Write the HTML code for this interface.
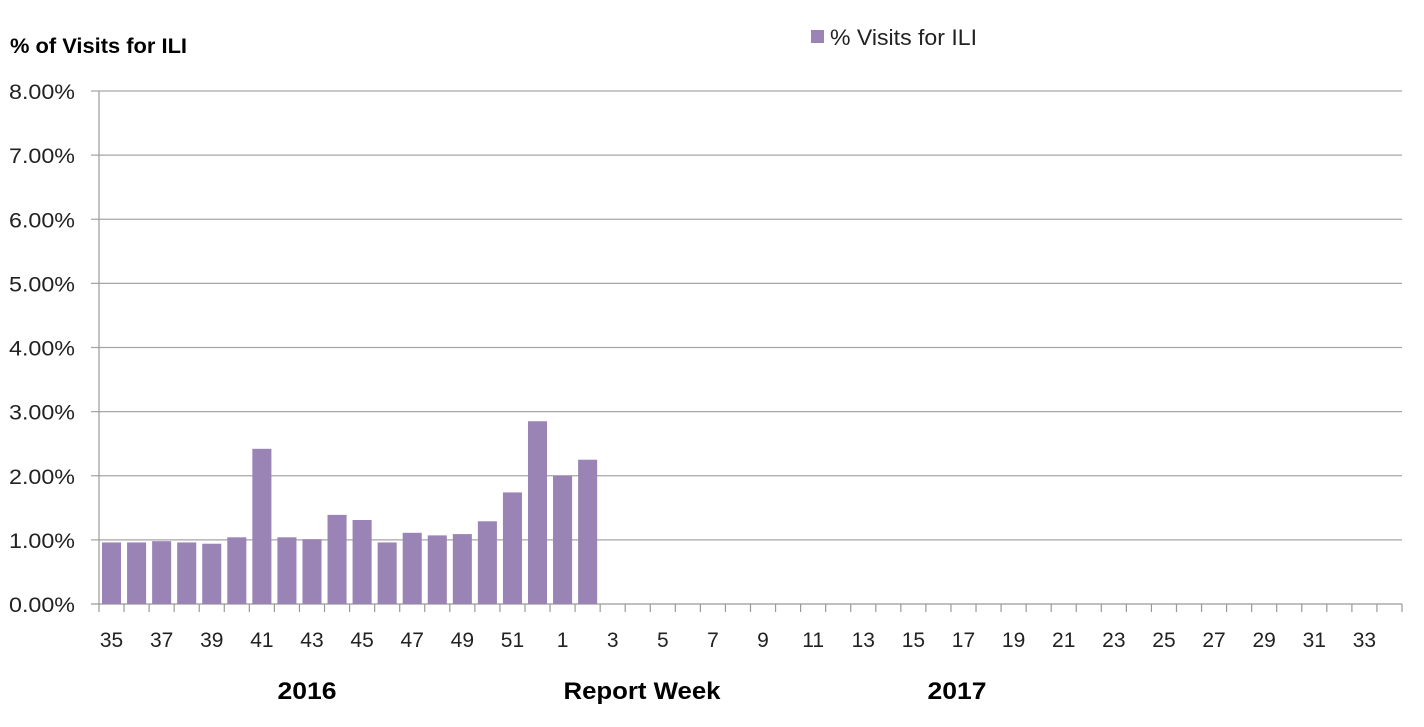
<!DOCTYPE html>
<html><head><meta charset="utf-8"><style>
body{margin:0;background:#fff;}
svg{display:block;font-family:"Liberation Sans",Calibri,sans-serif;}
</style></head><body>
<svg id="c" width="1424" height="727">
<text x="10" y="53" font-size="21" font-weight="bold" fill="#000" textLength="177" lengthAdjust="spacingAndGlyphs">% of Visits for ILI</text>
<g>
<rect x="811" y="30" width="13" height="13" fill="#9a84b6"></rect>
<text x="830" y="45" font-size="22" fill="#222" textLength="147" lengthAdjust="spacingAndGlyphs">% Visits for ILI</text>
</g>
<text x="307" y="699" font-size="24" font-weight="bold" text-anchor="middle" textLength="59" lengthAdjust="spacingAndGlyphs">2016</text>
<text x="642" y="699" font-size="24" font-weight="bold" text-anchor="middle" textLength="157" lengthAdjust="spacingAndGlyphs">Report Week</text>
<text x="957" y="699" font-size="24" font-weight="bold" text-anchor="middle" textLength="59" lengthAdjust="spacingAndGlyphs">2017</text>
<g id="grid"></g><g id="bars"></g><g id="axes"></g>
</svg>
<script>
const weeks=[35,36,37,38,39,40,41,42,43,44,45,46,47,48,49,50,51,52,1,2,3,4,5,6,7,8,9,10,11,12,13,14,15,16,17,18,19,20,21,22,23,24,25,26,27,28,29,30,31,32,33,34];
const values=[0.96,0.96,0.98,0.96,0.94,1.04,2.42,1.04,1.01,1.39,1.31,0.96,1.11,1.07,1.09,1.29,1.74,2.85,2.00,2.25];
const yTicks=[0,1,2,3,4,5,6,7,8];
const NS='http://www.w3.org/2000/svg';
const L=99,R=1402,T=91,B=604;
const bw=(R-L)/weeks.length;
const y=v=>B-(v/8)*(B-T);
const x=i=>L+i*bw;
function mk(t,a,p){const e=document.createElementNS(NS,t);for(const k in a)e.setAttribute(k,a[k]);p.appendChild(e);return e;}
const g=document.getElementById('grid'),b=document.getElementById('bars'),ax=document.getElementById('axes');
yTicks.forEach(v=>{
 const l=mk('line',{x1:L-8,x2:R,y1:y(v),y2:y(v),stroke:v===0?'#999':'#a6a6a6','stroke-width':1.2},g);
 
 
 const t=mk('text',{x:75,y:y(v)+8,'font-size':21,'text-anchor':'end',fill:'#222',textLength:66,lengthAdjust:'spacingAndGlyphs'},ax);
 t.textContent=v.toFixed(2)+'%';
 
 
});
values.forEach((v,i)=>{
 const r=mk('rect',{x:x(i)+3,width:bw-6,y:y(v),height:B-y(v),fill:'#9a84b6'},b);
 
 
});
const ya=mk('line',{x1:L,x2:L,y1:T,y2:B,stroke:'#999','stroke-width':1.2},ax);


for(let i=0;i<=weeks.length;i++){
 const tk=mk('line',{x1:x(i),x2:x(i),y1:B,y2:B+8,stroke:'#999','stroke-width':1.2},ax);
 
 
}
weeks.forEach((w,i)=>{
 if(i%2) return;
 const t=mk('text',{x:x(i)+bw/2,y:647,'font-size':21,'text-anchor':'middle',fill:'#222'},ax);
 t.textContent=w;
 
 
});
</script>
</body></html>
